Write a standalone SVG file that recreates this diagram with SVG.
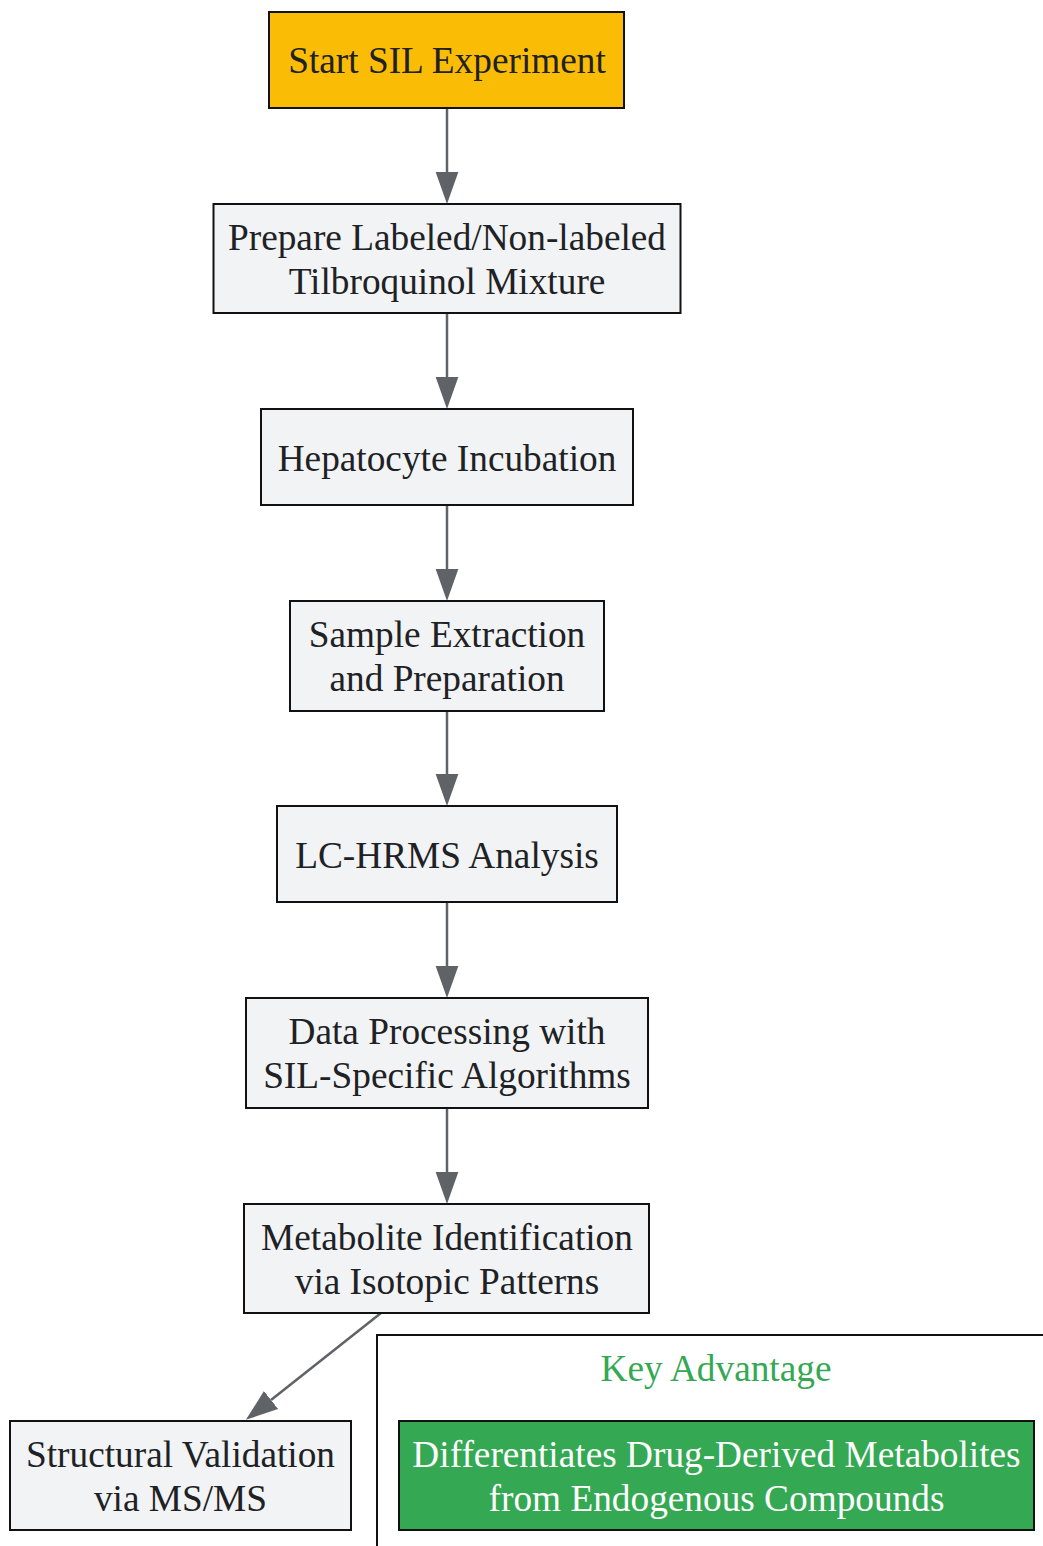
<svg xmlns="http://www.w3.org/2000/svg" width="1043" height="1546" viewBox="0 0 1043 1546">
<style>
  .node rect { fill: #F1F3F4; stroke: #111; stroke-width: 2; }
  .node text { font-family: "Liberation Serif", "Times New Roman", serif; font-size: 37.3px; fill: #202124; text-anchor: middle; }
  #start rect { fill: #FBBC05; }
  #diff rect { fill: #34A853; }
  #diff text { fill: #FFFFFF; }
  .cluster rect { fill: none; stroke: #111; stroke-width: 2; }
  .cluster text { font-family: "Liberation Serif", "Times New Roman", serif; font-size: 37.3px; fill: #34A853; text-anchor: middle; }
  .edges path { fill: none; stroke: #5F6368; stroke-width: 2.5; }
</style>
<defs>
  <marker id="arrow" markerUnits="userSpaceOnUse" markerWidth="32" markerHeight="24" viewBox="0 0 31 22" refX="0" refY="11" orient="auto">
    <path d="M0,0 L31,11 L0,22 z" fill="#5F6368"/>
  </marker>
</defs>
<rect width="1043" height="1546" fill="#FFFFFF"/>

<g class="cluster" id="cluster-key">
  <rect x="377" y="1335" width="679" height="217"/>
  <text x="716" y="1381">Key Advantage</text>
</g>

<g class="edges">
  <path d="M447,108 L447,172" marker-end="url(#arrow)"/>
  <path d="M447,313 L447,377" marker-end="url(#arrow)"/>
  <path d="M447,505 L447,569" marker-end="url(#arrow)"/>
  <path d="M447,711 L447,774" marker-end="url(#arrow)"/>
  <path d="M447,902 L447,966" marker-end="url(#arrow)"/>
  <path d="M447,1108 L447,1172" marker-end="url(#arrow)"/>
  <path d="M381,1313 L271,1400" marker-end="url(#arrow)"/>
</g>

<g class="node" id="start">
  <rect x="269" y="12" width="355" height="96"/>
  <text x="447" y="73">Start SIL Experiment</text>
</g>
<g class="node" id="prepare">
  <rect x="213.5" y="204" width="467" height="109"/>
  <text x="447" y="250">Prepare Labeled/Non-labeled</text>
  <text x="447" y="294">Tilbroquinol Mixture</text>
</g>
<g class="node" id="hepatocyte">
  <rect x="261" y="409" width="372" height="96"/>
  <text x="447" y="471">Hepatocyte Incubation</text>
</g>
<g class="node" id="sample">
  <rect x="290" y="601" width="314" height="110"/>
  <text x="447" y="647">Sample Extraction</text>
  <text x="447" y="691">and Preparation</text>
</g>
<g class="node" id="lchrms">
  <rect x="277" y="806" width="340" height="96"/>
  <text x="447" y="868">LC-HRMS Analysis</text>
</g>
<g class="node" id="processing">
  <rect x="246" y="998" width="402" height="110"/>
  <text x="447" y="1044">Data Processing with</text>
  <text x="447" y="1088">SIL-Specific Algorithms</text>
</g>
<g class="node" id="metabolite">
  <rect x="244" y="1204" width="405" height="109"/>
  <text x="447" y="1250">Metabolite Identification</text>
  <text x="447" y="1294">via Isotopic Patterns</text>
</g>
<g class="node" id="structural">
  <rect x="10" y="1421" width="341" height="109"/>
  <text x="180.5" y="1467">Structural Validation</text>
  <text x="180.5" y="1511">via MS/MS</text>
</g>
<g class="node" id="diff">
  <rect x="399" y="1421" width="635" height="109"/>
  <text x="716.5" y="1467">Differentiates Drug-Derived Metabolites</text>
  <text x="716.5" y="1511">from Endogenous Compounds</text>
</g>
</svg>
